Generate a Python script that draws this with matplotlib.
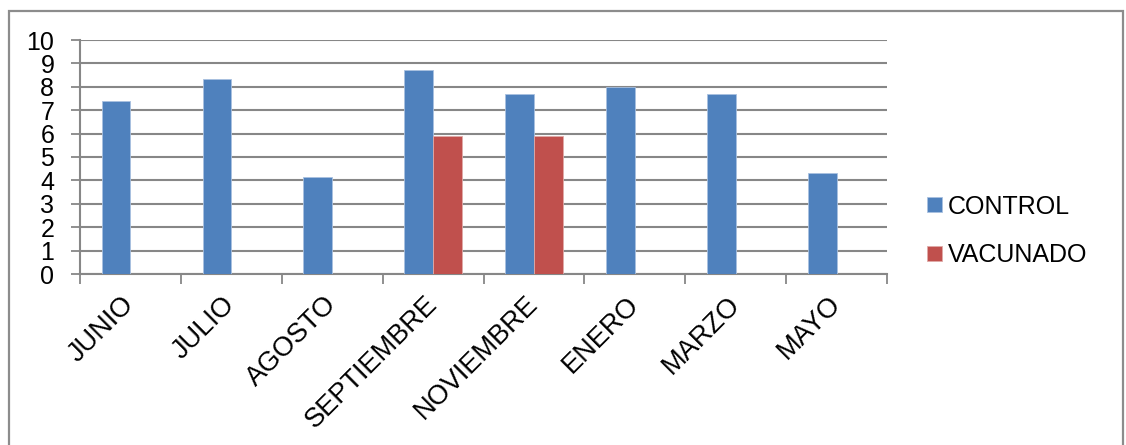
import matplotlib
matplotlib.use("Agg")
import matplotlib.pyplot as plt
from matplotlib.patches import Rectangle
import numpy as np

months = ["JUNIO", "JULIO", "AGOSTO", "SEPTIEMBRE", "NOVIEMBRE", "ENERO", "MARZO", "MAYO"]
control = [7.4, 8.33, 4.15, 8.7, 7.7, 8.0, 7.7, 4.33]
vacunado = [np.nan, np.nan, np.nan, 5.88, 5.88, np.nan, np.nan, np.nan]
y_ticks = list(range(0, 11))

plt.rcParams["font.family"] = ["Liberation Sans", "DejaVu Sans"]

W, H = 1126, 445
fig = plt.figure(figsize=(W / 100, H / 100), dpi=100)

# outer frame of the chart area
fig.patches.append(Rectangle((9 / W, -0.05), (1123 - 9) / W, 1.05 - 11 / H,
                             transform=fig.transFigure, fill=False,
                             edgecolor="#8c8c8c", linewidth=1.6, zorder=0))

ax = fig.add_axes([80 / W, 1 - 274 / H, (887 - 80) / W, (274 - 40) / H])

x = np.arange(len(months))
w = 0.285
blue = "#4F81BD"
red = "#C0504D"
ax.bar(x - w / 2, control, w, color=blue, edgecolor="#a9c1e0", linewidth=0.6,
       label="CONTROL", zorder=3)
ax.bar(x + w / 2, vacunado, w, color=red, edgecolor="#e0aaa8", linewidth=0.6,
       label="VACUNADO", zorder=3)

grid_c = "#878787"
ax.set_ylim(0, 10)
ax.set_xlim(-0.5, len(months) - 0.5)
ax.set_yticks(y_ticks)
ax.set_yticklabels([str(v) for v in y_ticks], fontsize=18)
ax.yaxis.grid(True, color=grid_c, linewidth=1.5, zorder=0)
ax.set_axisbelow(True)

ax.set_xticks(np.arange(-0.5, len(months)), minor=False)
ax.set_xticklabels([])
ax.set_xticks(x, minor=True)
ax.set_xticklabels(months, minor=True, rotation=45, ha="right", va="center",
                   rotation_mode="anchor", fontsize=19.5)
ax.tick_params(axis="x", which="minor", length=0, pad=19)
ax.tick_params(axis="x", which="major", length=7, width=1.3, color=grid_c)
ax.tick_params(axis="y", length=6.5, width=1.3, color=grid_c, pad=12)

for side in ["top", "right"]:
    ax.spines[side].set_visible(False)
ax.spines["left"].set_color(grid_c)
ax.spines["left"].set_linewidth(1.5)
ax.spines["bottom"].set_color(grid_c)
ax.spines["bottom"].set_linewidth(1.5)

fig.legend(loc="center left", bbox_to_anchor=(927 / W, 1 - 231 / H),
           frameon=False, fontsize=18, handlelength=0.58, handleheight=0.58,
           handletextpad=0.25, labelspacing=1.0, borderaxespad=0, borderpad=0)

fig.savefig("out.png", dpi=100)
